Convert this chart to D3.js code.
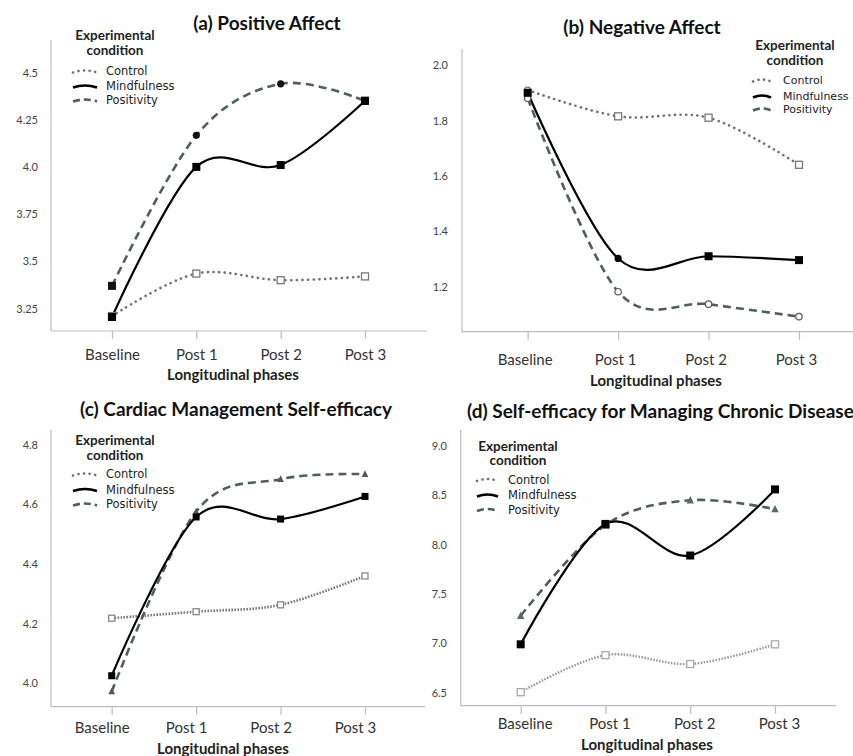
<!DOCTYPE html>
<html><head><meta charset="utf-8">
<script src="https://cdn.jsdelivr.net/npm/d3@7"></script>
<style>
html,body{margin:0;padding:0;background:#fff;}
svg{display:block;}
</style></head>
<body>
<svg id="chart" width="853" height="756"></svg>
<script>
// ---------------- DATA ----------------
const phases = ["Baseline", "Post 1", "Post 2", "Post 3"];
const conditions = ["Control", "Mindfulness", "Positivity"];

// (a) Positive Affect
const posAffectControl     = [3.21, 3.435, 3.40, 3.42];
const posAffectMindfulness = [3.205, 4.00, 4.01, 4.35];
const posAffectPositivity  = [3.37, 4.167, 4.44, 4.35];
const posAffectTicks  = [3.25, 3.5, 3.75, 4.0, 4.25, 4.5];
const posAffectLabels = ["3.25", "3.5", "3.75", "4.0", "4.25", "4.5"];

// (b) Negative Affect
const negAffectControl     = [1.91, 1.815, 1.81, 1.64];
const negAffectMindfulness = [1.90, 1.302, 1.31, 1.296];
const negAffectPositivity  = [1.88, 1.182, 1.137, 1.092];
const negAffectTicks  = [1.2, 1.4, 1.6, 1.8, 2.0];
const negAffectLabels = ["1.2", "1.4", "1.6", "1.8", "2.0"];

// (c) Cardiac Management Self-efficacy
const cardiacControl     = [4.218, 4.24, 4.263, 4.36];
const cardiacMindfulness = [4.025, 4.558, 4.551, 4.627];
const cardiacPositivity  = [3.972, 4.576, 4.685, 4.702];
const cardiacTicks  = [4.0, 4.2, 4.4, 4.6, 4.8];
const cardiacLabels = ["4.0", "4.2", "4.4", "4.6", "4.8"];

// (d) Self-efficacy for Managing Chronic Disease
const chronicControl     = [6.505, 6.88, 6.79, 6.99];
const chronicMindfulness = [6.99, 8.21, 7.89, 8.56];
const chronicPositivity  = [7.28, 8.20, 8.45, 8.36];
const chronicTicks  = [6.5, 7.0, 7.5, 8.0, 8.5, 9.0];
const chronicLabels = ["6.5", "7.0", "7.5", "8.0", "8.5", "9.0"];

// ---------------- LAYOUT / STYLE ----------------
const svg = d3.select("#chart");
const FONT = "Lato, 'Open Sans', sans-serif";
const LEGFONT = "'DejaVu Sans', Verdana, sans-serif";

const panels = [
  { title: "(a) Positive Affect", titleX: 267, titleY: 30, titleAnchor: "middle",
    values: [posAffectControl, posAffectMindfulness, posAffectPositivity],
    ticks: posAffectTicks, labels: posAffectLabels,
    yDomain: [3.131, 4.672], yTop: 40, yBottom: 331, axisX: 51, axisRight: 427,
    xFirst: 112, xLast: 365, labelDx: 0, tickLabelY: 360, yLabelX: 38,
    xTitleX: 233, xTitleY: 380,
    legend: { hx: 115, hy: 40, x0: 73, x1: 97, tx: 106, ys: [75, 90, 104], fs: 11.5 },
    ctrlDash: "0.1 5.5", ctrlWidth: 2.6, ctrlCap: "round", ctrlColor: "#6f6f6f", ctrlMarkColor: "#777",
    marks: [["osq","osq","osq","osq"], ["sq","sq","sq","sq"], ["sq","ci","ci","sq"]],
    msize: 8, posMarkColor: "#111" },
  { title: "(b) Negative Affect", titleX: 642, titleY: 34, titleAnchor: "middle",
    values: [negAffectControl, negAffectMindfulness, negAffectPositivity],
    ticks: negAffectTicks, labels: negAffectLabels,
    yDomain: [1.0376, 2.058], yTop: 49, yBottom: 331.7, axisX: 462, axisRight: 853,
    xFirst: 527.7, xLast: 799, labelDx: -3, tickLabelY: 365, yLabelX: 448,
    xTitleX: 656, xTitleY: 386,
    legend: { hx: 795, hy: 50, x0: 753, x1: 771, tx: 783, ys: [84, 100, 113], fs: 11 },
    ctrlDash: "0.1 5.5", ctrlWidth: 2.6, ctrlCap: "round", ctrlColor: "#6f6f6f", ctrlMarkColor: "#777",
    marks: [["oci","osq","osq","osq"], ["sq","ci","sq","sq"], ["oci","oci","oci","oci"]],
    msize: 8, posMarkColor: "#555" },
  { title: "(c) Cardiac Management Self-efficacy", titleX: 236, titleY: 416, titleAnchor: "middle",
    values: [cardiacControl, cardiacMindfulness, cardiacPositivity],
    ticks: cardiacTicks, labels: cardiacLabels,
    yDomain: [3.921, 4.85], yTop: 430, yBottom: 706.7, axisX: 51, axisRight: 425,
    xFirst: 111.7, xLast: 365, labelDx: -10, tickLabelY: 733, yLabelX: 38,
    xTitleX: 223, xTitleY: 754,
    legend: { hx: 115, hy: 445, x0: 73, x1: 97, tx: 106, ys: [478, 493.5, 508], fs: 11.5 },
    ctrlDash: "1.6 1.4", ctrlWidth: 2.6, ctrlCap: "butt", ctrlColor: "#7a7a7a", ctrlMarkColor: "#888",
    marks: [["osq","osq","osq","osq"], ["sq","sq","sq","sq"], ["tri","tri","tri","tri"]],
    msize: 7, posMarkColor: "#555" },
  { title: "(d) Self-efficacy for Managing Chronic Disease", titleX: 467, titleY: 418, titleAnchor: "start",
    values: [chronicControl, chronicMindfulness, chronicPositivity],
    ticks: chronicTicks, labels: chronicLabels,
    yDomain: [6.368, 9.162], yTop: 430, yBottom: 705.7, axisX: 460.7, axisRight: 836,
    xFirst: 520.7, xLast: 775, labelDx: 4, tickLabelY: 729, yLabelX: 447,
    xTitleX: 647, xTitleY: 750,
    legend: { hx: 518, hy: 450.5, x0: 477, x1: 498, tx: 508, ys: [483.5, 499, 513.5], fs: 11.5 },
    ctrlDash: "1.6 1.4", ctrlWidth: 2.4, ctrlCap: "butt", ctrlColor: "#9a9a9a", ctrlMarkColor: "#aaa",
    marks: [["osq","osq","osq","osq"], ["sq","sq","sq","sq"], ["tri","sq","tri","tri"]],
    msize: 8, posMarkColor: "#5a6a66" }
];

const POS_COLOR = "#4f5f5b";
const AXIS_COLOR = "#bdbdbd";

function drawMarker(g, shape, x, y, s, color) {
  if (shape === "sq") {
    g.append("rect").attr("x", x - s/2).attr("y", y - s/2).attr("width", s).attr("height", s)
      .attr("fill", color);
  } else if (shape === "osq") {
    g.append("rect").attr("x", x - s/2).attr("y", y - s/2).attr("width", s).attr("height", s)
      .attr("fill", "#fff").attr("stroke", color).attr("stroke-width", 1.3);
  } else if (shape === "ci") {
    g.append("circle").attr("cx", x).attr("cy", y).attr("r", s * 0.45).attr("fill", color);
  } else if (shape === "oci") {
    g.append("circle").attr("cx", x).attr("cy", y).attr("r", s * 0.4)
      .attr("fill", "#fff").attr("stroke", color).attr("stroke-width", 1.2);
  } else if (shape === "tri") {
    const h = s * 0.8;
    g.append("path").attr("d", `M${x},${y - h/2 - 1}L${x + h/2 + 0.5},${y + h/2}L${x - h/2 - 0.5},${y + h/2}Z`)
      .attr("fill", color);
  }
}

panels.forEach(p => {
  const g = svg.append("g");
  const x = d3.scalePoint().domain(phases).range([p.xFirst, p.xLast]);
  const y = d3.scaleLinear().domain(p.yDomain).range([p.yBottom, p.yTop]);

  // axes lines
  g.append("line").attr("x1", p.axisX).attr("x2", p.axisX).attr("y1", p.yTop).attr("y2", p.yBottom)
    .attr("stroke", AXIS_COLOR).attr("stroke-width", 1.2);
  g.append("line").attr("x1", p.axisX).attr("x2", p.axisRight).attr("y1", p.yBottom).attr("y2", p.yBottom)
    .attr("stroke", AXIS_COLOR).attr("stroke-width", 1.2);

  // x axis ticks
  const xa = g.append("g").attr("transform", `translate(0,${p.yBottom})`)
    .call(d3.axisBottom(x).tickSize(8).tickPadding(0));
  xa.select(".domain").remove();
  xa.selectAll(".tick line").attr("stroke", AXIS_COLOR).attr("stroke-width", 1.2);
  xa.selectAll(".tick text")
    .attr("y", p.tickLabelY - p.yBottom).attr("dy", 0).attr("dx", p.labelDx)
    .attr("font-family", FONT).attr("font-size", 15).attr("fill", "#333");

  // y axis labels
  const ya = g.append("g").attr("transform", `translate(${p.yLabelX},0)`)
    .call(d3.axisLeft(y).tickValues(p.ticks).tickSize(0).tickPadding(0)
      .tickFormat((d, i) => p.labels[i]));
  ya.select(".domain").remove();
  ya.selectAll(".tick text").attr("font-family", FONT).attr("font-size", 11).attr("fill", "#444");

  // series
  const line = d3.line().x((d, i) => x(phases[i])).y(d => y(d)).curve(d3.curveCardinal.tension(0));
  const styles = [
    { stroke: p.ctrlColor, width: p.ctrlWidth, dash: p.ctrlDash, cap: p.ctrlCap },
    { stroke: "#000", width: 2.2, dash: null, cap: "butt" },
    { stroke: POS_COLOR, width: 2.6, dash: "8 5", cap: "butt" }
  ];
  [0, 2, 1].forEach(si => {
    const st = styles[si];
    g.append("path").datum(p.values[si]).attr("d", line)
      .attr("fill", "none").attr("stroke", st.stroke).attr("stroke-width", st.width)
      .attr("stroke-dasharray", st.dash).attr("stroke-linecap", st.cap);
  });
  [0, 2, 1].forEach(si => {
    const color = si === 0 ? p.ctrlMarkColor : (si === 1 ? "#000" : p.posMarkColor);
    p.values[si].forEach((v, i) => {
      drawMarker(g, p.marks[si][i], x(phases[i]), y(v), si === 0 ? p.msize - 1 : p.msize, color);
    });
  });

  // title
  g.append("text").attr("x", p.titleX).attr("y", p.titleY).attr("text-anchor", p.titleAnchor)
    .attr("font-family", FONT).attr("font-weight", "bold").attr("font-size", 19).attr("fill", "#111")
    .text(p.title);

  // x axis title
  g.append("text").attr("x", p.xTitleX).attr("y", p.xTitleY).attr("text-anchor", "middle")
    .attr("font-family", FONT).attr("font-weight", "bold").attr("font-size", 15).attr("fill", "#222")
    .text("Longitudinal phases");

  // legend
  const L = p.legend;
  const lg = g.append("g");
  lg.append("text").attr("x", L.hx).attr("y", L.hy).attr("text-anchor", "middle")
    .attr("font-family", FONT).attr("font-weight", "bold").attr("font-size", 13.5).attr("fill", "#222")
    .text("Experimental");
  lg.append("text").attr("x", L.hx).attr("y", L.hy + 14.5).attr("text-anchor", "middle")
    .attr("font-family", FONT).attr("font-weight", "bold").attr("font-size", 13.5).attr("fill", "#222")
    .text("condition");
  conditions.forEach((c, i) => {
    const yy = L.ys[i] - 4;
    const st = styles[i];
    lg.append("path")
      .attr("d", `M${L.x0},${yy + 1.5}Q${(L.x0 + L.x1) / 2},${yy - 2.5} ${L.x1},${yy + 1.5}`)
      .attr("fill", "none").attr("stroke", i === 0 ? "#6f6f6f" : st.stroke)
      .attr("stroke-width", 2.6)
      .attr("stroke-dasharray", i === 0 ? "0.1 5.5" : (i === 2 ? "7 4" : null))
      .attr("stroke-linecap", i === 0 ? "round" : "butt");
    lg.append("text").attr("x", L.tx).attr("y", L.ys[i])
      .attr("font-family", LEGFONT).attr("font-size", L.fs).attr("fill", "#222").text(c);
  });
});
</script>
</body></html>
